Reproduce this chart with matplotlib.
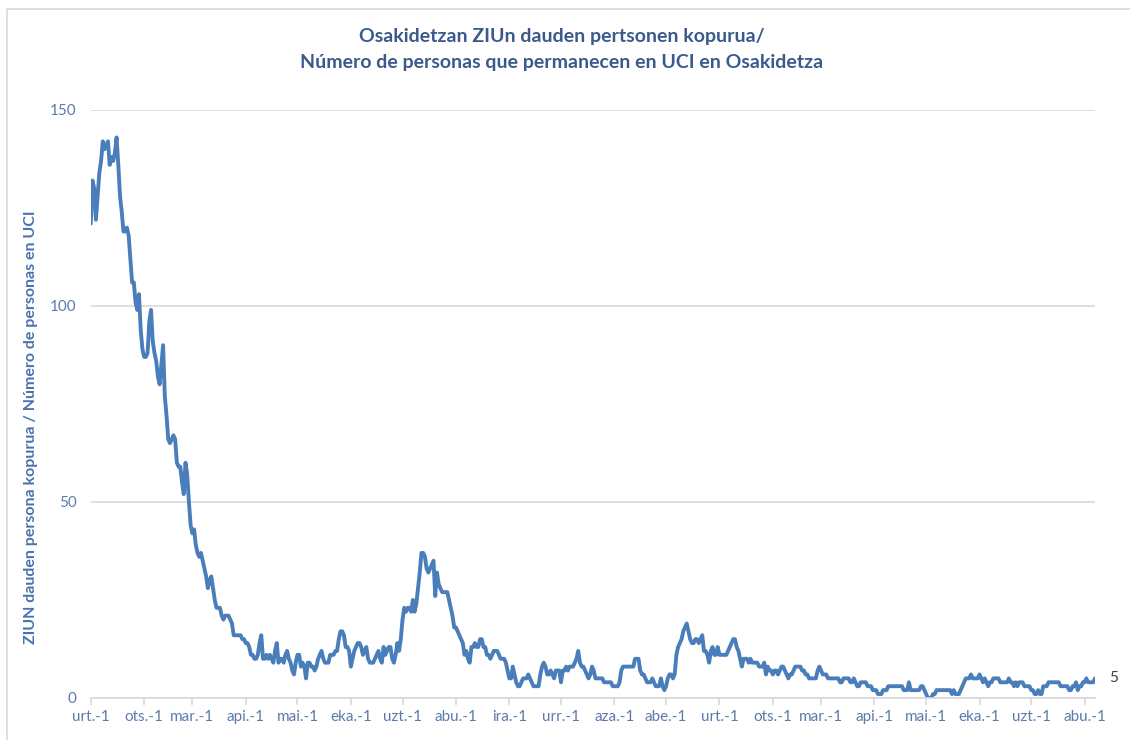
import pandas as pd
import numpy as np
import matplotlib
matplotlib.use('Agg')
import matplotlib.pyplot as plt
import matplotlib.dates as mdates
from matplotlib.ticker import FuncFormatter
from matplotlib.patches import Rectangle

plt.rcParams['font.family'] = ['Lato', 'DejaVu Sans']

# Daily number of people in ICU (Osakidetza), month by month
jan_2022 = [121, 132, 130, 122, 128, 134, 137, 142, 140, 141, 142, 136, 138, 137, 139, 143,
            136, 128, 124, 119, 119, 120, 118, 112, 106, 106, 101, 99, 103, 94, 89]
feb_2022 = [87, 87, 88, 96, 99, 91, 88, 86, 82, 80, 85, 90, 77, 72, 66, 65, 66, 67, 66, 60,
            59, 59, 55, 52, 60, 57, 50, 44]
mar_2022 = [42, 43, 39, 37, 36, 37, 35, 33, 31, 28, 30, 31, 28, 25, 23, 23, 23, 21, 20, 21,
            21, 21, 20, 19, 16, 16, 16, 16, 16, 15, 15]
apr_2022 = [14, 14, 13, 11, 11, 10, 10, 11, 14, 16, 10, 10, 11, 10, 11, 10, 9, 12, 14, 9,
            10, 10, 9, 11, 12, 10, 9, 7, 6, 9]
may_2022 = [11, 11, 8, 9, 8, 5, 9, 9, 8, 8, 7, 8, 10, 11, 12, 10, 9, 9, 9, 11, 11, 11, 12, 12,
            15, 17, 17, 16, 13, 13, 12]
jun_2022 = [8, 10, 12, 13, 14, 14, 13, 11, 12, 13, 10, 9, 9, 9, 10, 11, 12, 10, 9, 13, 11,
            12, 13, 13, 10, 9, 11, 14, 12, 15]
jul_2022 = [20, 23, 22, 23, 23, 22, 25, 22, 24, 28, 32, 37, 37, 36, 33, 32, 33, 34, 35, 26,
            32, 29, 28, 27, 27, 27, 27, 25, 23, 21, 18]
aug_2022 = [18, 17, 16, 15, 14, 11, 12, 10, 9, 13, 13, 14, 13, 13, 15, 15, 13, 13, 11, 11,
            10, 11, 12, 12, 12, 11, 10, 10, 10, 9, 7]
sep_2022 = [5, 5, 8, 6, 4, 3, 3, 4, 5, 5, 5, 6, 5, 4, 3, 3, 3, 3, 6, 8, 9, 8, 6, 6, 7, 6, 5,
            7, 7, 7]
oct_2022 = [4, 7, 7, 8, 7, 8, 8, 8, 9, 10, 12, 9, 8, 8, 7, 6, 5, 6, 8, 7, 5, 5, 5, 5, 5, 4,
            4, 4, 4, 4, 3]
nov_2022 = [3, 3, 3, 4, 7, 8, 8, 8, 8, 8, 8, 8, 10, 10, 10, 7, 6, 6, 5, 4, 4, 4, 5, 4, 3, 3,
            3, 5, 3, 2]
dec_2022 = [3, 5, 6, 6, 5, 6, 11, 13, 14, 15, 17, 18, 19, 17, 15, 14, 14, 15, 15, 14, 15, 16,
            12, 12, 11, 9, 12, 13, 11, 11, 13]
jan_2023 = [11, 11, 11, 11, 11, 12, 13, 14, 15, 15, 13, 12, 10, 8, 10, 10, 10, 9, 10, 9, 9,
            9, 9, 8, 8, 8, 9, 6, 8, 7, 7]
feb_2023 = [6, 7, 7, 6, 7, 8, 8, 7, 6, 5, 6, 6, 7, 8, 8, 8, 8, 7, 7, 6, 6, 5, 5, 5, 5, 5, 7, 8]
mar_2023 = [7, 6, 6, 6, 5, 5, 5, 5, 5, 5, 5, 4, 4, 5, 5, 5, 5, 4, 4, 5, 4, 3, 3, 4, 4, 4, 4,
            3, 3, 3, 2]
apr_2023 = [2, 2, 1, 1, 1, 2, 2, 2, 3, 3, 3, 3, 3, 3, 3, 3, 3, 2, 2, 2, 4, 2, 2, 2, 2, 2, 2,
            3, 3, 2]
may_2023 = [1, 0, 0, 0, 1, 1, 2, 2, 2, 2, 2, 2, 2, 2, 2, 1, 2, 1, 1, 1, 2, 3, 4, 5, 5, 5, 6,
            5, 5, 5, 5]
jun_2023 = [6, 5, 4, 5, 4, 3, 4, 4, 5, 5, 5, 5, 4, 4, 4, 4, 4, 5, 4, 4, 3, 4, 3, 4, 4, 4, 3,
            3, 3, 3]
jul_2023 = [2, 2, 1, 1, 2, 1, 1, 3, 3, 3, 4, 4, 4, 4, 4, 4, 4, 3, 3, 3, 3, 3, 2, 2, 3, 3, 4,
            2, 3, 3, 4]
aug_2023 = [4, 5, 4, 4, 4, 4, 5]

start_date = '2022-01-01'

# Basque month abbreviations used on the x axis
month_abbr = ['urt.', 'ots.', 'mar.', 'api.', 'mai.', 'eka.',
              'uzt.', 'abu.', 'ira.', 'urr.', 'aza.', 'abe.']

title = 'Osakidetzan ZIUn dauden pertsonen kopurua/\nNúmero de personas que permanecen en UCI en Osakidetza'
ylabel = 'ZIUN dauden persona kopurua / Número de personas en UCI'

values = (jan_2022 + feb_2022 + mar_2022 + apr_2022 + may_2022 + jun_2022 + jul_2022 +
          aug_2022 + sep_2022 + oct_2022 + nov_2022 + dec_2022 + jan_2023 + feb_2023 +
          mar_2023 + apr_2023 + may_2023 + jun_2023 + jul_2023 + aug_2023)
dates = pd.date_range(start_date, periods=len(values), freq='D')
df = pd.DataFrame({'date': dates, 'icu': values})

line_color = '#4A7EBB'
tick_color = '#5B7BAA'
grid_color = '#D9D9D9'

fig = plt.figure(figsize=(11.3, 7.4), dpi=100)
ax = fig.add_axes([0.0803, 0.0568, 0.8887, 0.7946])

ax.plot(df['date'], df['icu'], color=line_color, linewidth=2.8,
        solid_joinstyle='round', solid_capstyle='round')

ax.set_xlim(df['date'].iloc[0], df['date'].iloc[-1])
ax.set_ylim(0, 150)
ax.set_yticks([0, 50, 100, 150])
ax.yaxis.grid(True, color=grid_color, linewidth=1.2)
ax.set_axisbelow(True)

ax.xaxis.set_major_locator(mdates.MonthLocator(bymonthday=1))
ax.xaxis.set_major_formatter(FuncFormatter(
    lambda x, pos: month_abbr[mdates.num2date(x).month - 1] + '-1'))

for side in ['top', 'right', 'left']:
    ax.spines[side].set_visible(False)
ax.spines['bottom'].set_color(grid_color)
ax.spines['bottom'].set_linewidth(1.2)

ax.tick_params(axis='x', direction='out', length=5, width=1.2, color=grid_color,
               labelsize=11, labelcolor=tick_color, pad=4)
ax.tick_params(axis='y', length=0, labelsize=11, labelcolor=tick_color, pad=10)

ax.set_ylabel(ylabel, fontsize=11.5, fontweight='bold', color='#4A72B0')
ax.yaxis.set_label_coords(-0.0525, 0.461)

# label with last value
ax.annotate(str(values[-1]), xy=(df['date'].iloc[-1], values[-1]),
            xytext=(10, 0), textcoords='offset points', va='center', ha='left',
            fontsize=11, color='#404040', annotation_clip=False)

fig.text(0.497, 0.933, title, ha='center', va='center', fontsize=14,
         fontweight='bold', color='#3A5A8C', linespacing=1.6)

# chart area border
fig.add_artist(Rectangle((7 / 1130, -0.1), 1.2, 1 - 9 / 740 + 0.1,
                         transform=fig.transFigure, fill=False,
                         edgecolor='#D9D9D9', linewidth=1.2))

fig.savefig('out.png', dpi=100)
